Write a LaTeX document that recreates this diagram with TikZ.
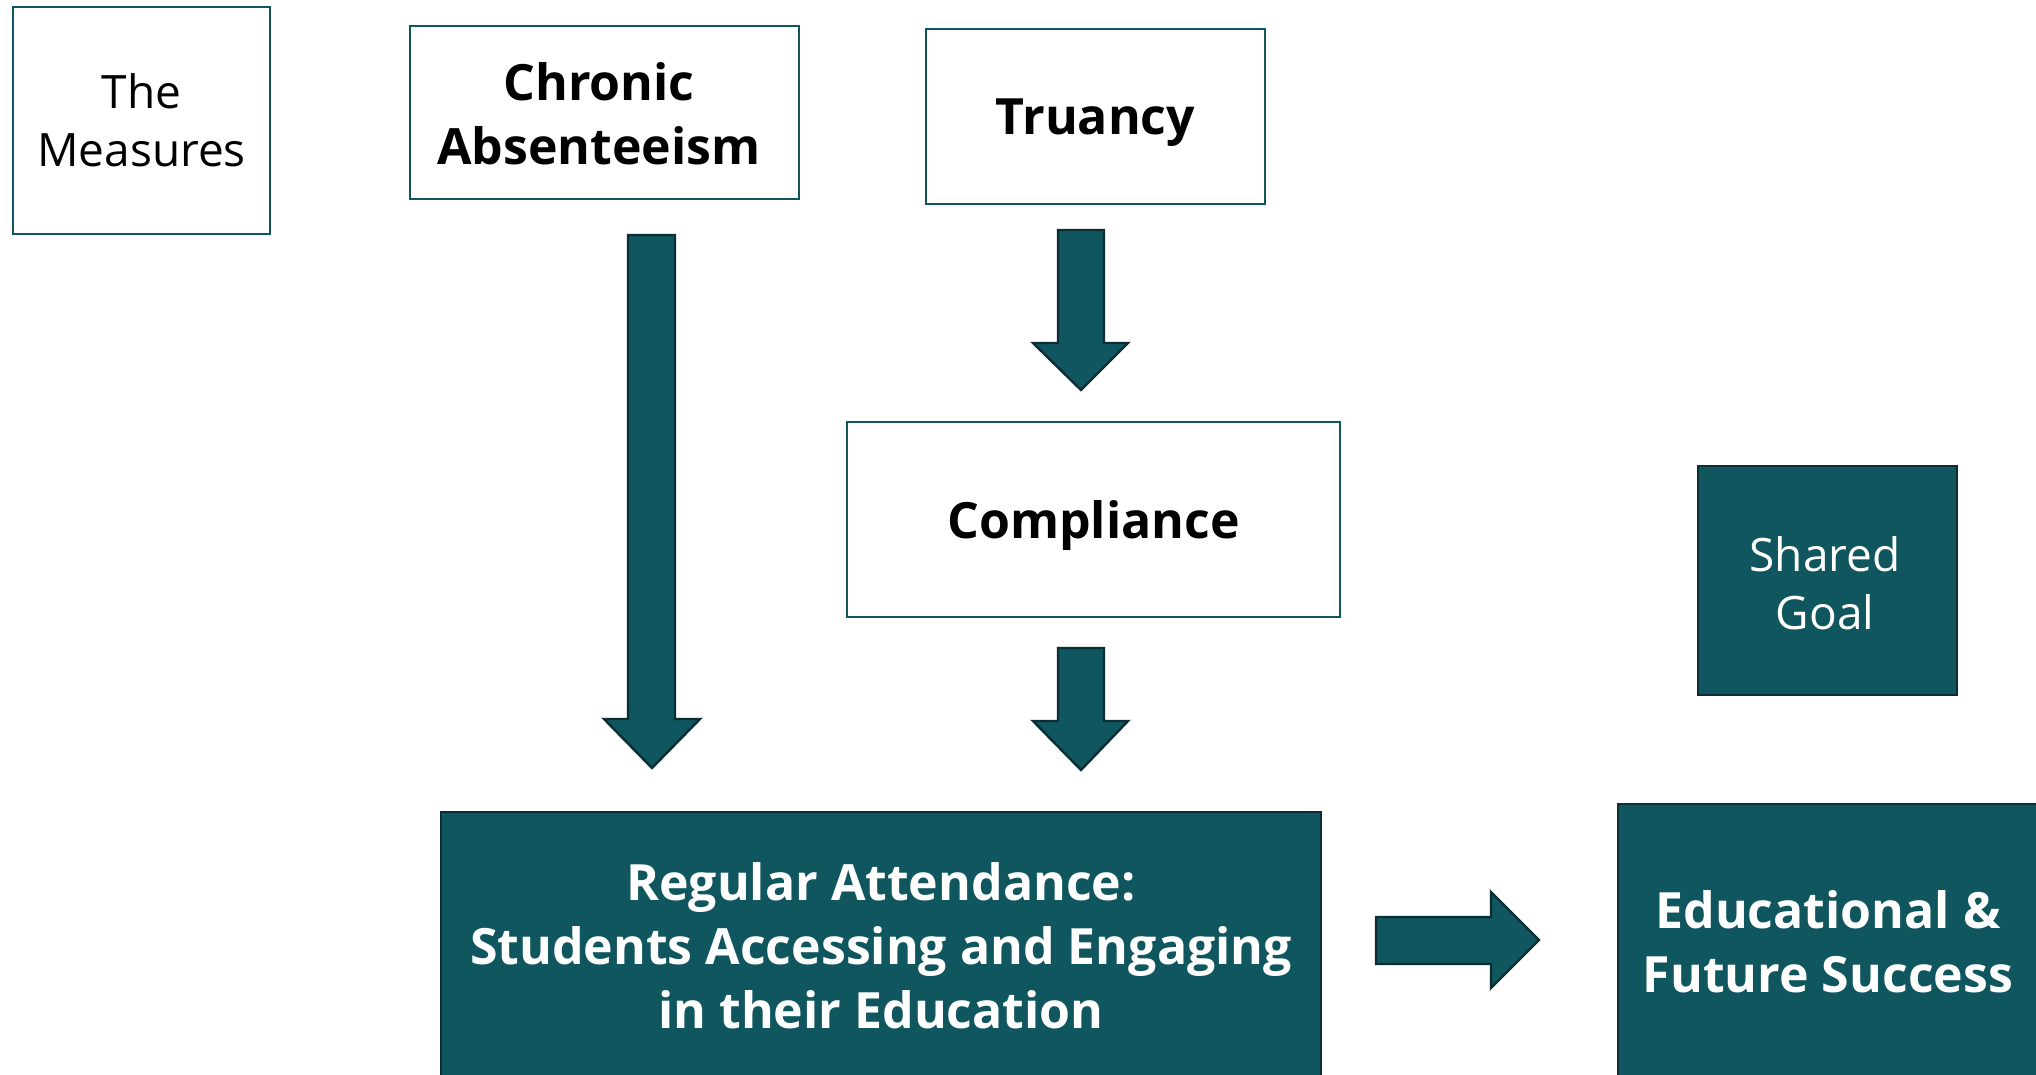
\documentclass[tikz,border=0pt]{standalone}
\usepackage{fontspec}
\setmainfont{Open Sans}
\definecolor{teal1}{HTML}{0F565E}
\definecolor{tealdark}{HTML}{0A2E33}
\begin{document}
\begin{tikzpicture}[x=1pt,y=-1pt,
  outline/.style={draw=teal1,line width=2pt,fill=white,inner sep=0pt},
  solidbox/.style={draw=tealdark,line width=2pt,fill=teal1,inner sep=0pt},
  darklabel/.style={text=black,align=center,font=\fontsize{46}{58}\selectfont},
  lightlabel/.style={text=white,align=center,font=\fontsize{46}{58}\selectfont},
  boldtext/.style={font=\bfseries\fontsize{50}{64}\selectfont},
  blockarrow/.style={fill=teal1,draw=tealdark,line width=2.4pt,line join=miter}]
\clip (0,0) rectangle (2036,1075);
\fill[white] (0,0) rectangle (2036,1075);

% outlined measure boxes
\draw[outline] (13,7) rectangle (270,234);
\node[darklabel] (measures) at (141.5,120) {The\\Measures};

\draw[outline] (410,26) rectangle (799,199);
\node[darklabel,boldtext] (chronic) at (599,114) {Chronic\\Absenteeism};

\draw[outline] (926,29) rectangle (1265,204);
\node[darklabel,boldtext] (truancy) at (1095.5,123) {Truancy};

\draw[outline] (847,422) rectangle (1340,617);
\node[darklabel,boldtext] (compliance) at (1093.5,526) {Compliance};

% filled goal boxes
\draw[solidbox] (1698,466) rectangle (1957,695);
\node[lightlabel] (goal) at (1825,583) {Shared\\Goal};

\draw[solidbox] (441,812) rectangle (1321,1095);
\node[lightlabel,boldtext] (attend) at (881,946) {Regular Attendance:\\Students Accessing and Engaging\\in their Education};

\draw[solidbox] (1618,804) rectangle (2050,1095);
\node[lightlabel,boldtext] (success) at (1828,942) {Educational \&\\Future Success};

% block arrows
\draw[blockarrow] (628,235) -- (675,235) -- (675,719) -- (700,719) -- (652,768)
  -- (604,719) -- (628,719) -- cycle;
\draw[blockarrow] (1058,230) -- (1104,230) -- (1104,343) -- (1128,343) -- (1081,390)
  -- (1033,343) -- (1058,343) -- cycle;
\draw[blockarrow] (1058,648) -- (1104,648) -- (1104,721) -- (1128,721) -- (1081,770)
  -- (1033,721) -- (1058,721) -- cycle;
\draw[blockarrow] (1376,917) -- (1491,917) -- (1491,892) -- (1539,940) -- (1491,988)
  -- (1491,964) -- (1376,964) -- cycle;
\end{tikzpicture}
\end{document}
